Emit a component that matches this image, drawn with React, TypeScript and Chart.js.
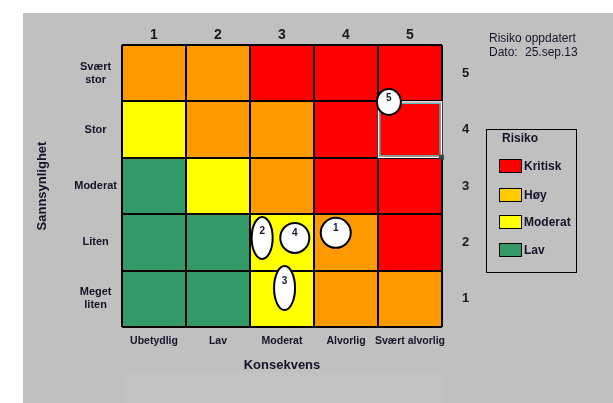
import React, { useEffect, useRef } from 'react';
import { Chart, registerables } from 'chart.js';

Chart.register(...registerables);

// ---- data ----
const consequenceLabels = ['Ubetydlig', 'Lav', 'Moderat', 'Alvorlig', 'Svært alvorlig'];
const consequenceNumbers = ['1', '2', '3', '4', '5'];
const likelihoodLabels = [['Svært', 'stor'], 'Stor', 'Moderat', 'Liten', ['Meget', 'liten']]; // top -> bottom
const likelihoodNumbers = ['5', '4', '3', '2', '1']; // top -> bottom
const likelihoodValues = [1, 2, 3, 4, 5];

// risk level per cell (0 Lav, 1 Moderat, 2 Høy, 3 Kritisk), row per likelihood 1..5, columns consequence 1..5
const levelLikelihood1 = [0, 0, 1, 2, 2];
const levelLikelihood2 = [0, 0, 1, 2, 3];
const levelLikelihood3 = [0, 1, 2, 3, 3];
const levelLikelihood4 = [1, 2, 2, 3, 3];
const levelLikelihood5 = [2, 2, 3, 3, 3];
const levelRows = [levelLikelihood1, levelLikelihood2, levelLikelihood3, levelLikelihood4, levelLikelihood5];

const levelNames = ['Lav', 'Moderat', 'Høy', 'Kritisk'];
const legendOrder = [3, 2, 1, 0];

// registered risks
const riskIds = ['1', '2', '3', '4', '5'];
const riskConsequence = [3.84, 2.69, 3.04, 3.2, 4.67];
const riskLikelihood = [2.17, 2.08, 1.19, 2.08, 4.49];

// selected cell (consequence, likelihood)
const selectedCell = [5, 4];

// ---- styles ----
const cellColors = ['#339966', '#FFFF00', '#FF9900', '#FF0000'];
const legendColors = ['#339966', '#FFFF00', '#FFCC00', '#FF0000'];
const riskRadiusX = [15, 10.5, 10.5, 14.5, 12];
const riskRadiusY = [15, 21, 22, 15, 13];
const FONT = "'Liberation Sans', Arial, Helvetica, sans-serif";
const TEXT = '#14142a';

const overlayPlugin = {
  id: 'riskOverlay',
  afterDraw(chart: any) {
    const ctx = chart.ctx;
    const xs = chart.scales.xr;
    const ys = chart.scales.y;
    // selected cell highlight
    const sx0 = xs.getPixelForValue(selectedCell[0] - 0.5);
    const sx1 = xs.getPixelForValue(selectedCell[0] + 0.5);
    const sy0 = ys.getPixelForValue(selectedCell[1] + 0.5);
    const sy1 = ys.getPixelForValue(selectedCell[1] - 0.5);
    ctx.save();
    ctx.lineWidth = 1.5;
    ctx.strokeStyle = '#ffffff';
    ctx.strokeRect(sx0 + 0.5, sy0 + 0.5, sx1 - sx0 - 1, sy1 - sy0 - 1);
    ctx.lineWidth = 1;
    ctx.strokeStyle = '#33dddd';
    ctx.strokeRect(sx0 + 2, sy0 + 2, sx1 - sx0 - 4, sy1 - sy0 - 4);
    ctx.fillStyle = '#404040';
    ctx.fillRect(sx1 - 3, sy1 - 3, 5, 5);
    ctx.restore();

    // risk ellipses
    const meta = chart.getDatasetMeta(levelRows.length);
    meta.data.forEach((pt: any, i: number) => {
      const rx = riskRadiusX[i];
      const ry = riskRadiusY[i];
      ctx.save();
      ctx.beginPath();
      ctx.ellipse(pt.x, pt.y, rx, ry, 0, 0, Math.PI * 2);
      ctx.fillStyle = '#ffffff';
      ctx.fill();
      ctx.lineWidth = 2;
      ctx.strokeStyle = '#000000';
      ctx.stroke();
      ctx.fillStyle = TEXT;
      ctx.font = `bold 10px ${FONT}`;
      ctx.textAlign = 'center';
      ctx.textBaseline = 'middle';
      ctx.fillText(riskIds[i], pt.x, pt.y - ry * 0.3);
      ctx.restore();
    });
  },
};

export default function App() {
  const ref = useRef<HTMLCanvasElement | null>(null);

  useEffect(() => {
    if (!ref.current) return;
    Chart.defaults.font.family = FONT;
    const barDatasets = levelRows.map((row, r) => ({
      type: 'bar' as const,
      label: String(likelihoodValues[r]),
      data: row.map(() => [likelihoodValues[r] - 0.5, likelihoodValues[r] + 0.5]),
      backgroundColor: row.map((lv) => cellColors[lv]),
      borderWidth: 0,
      barPercentage: 1,
      categoryPercentage: 1,
      grouped: false,
      xAxisID: 'x',
      yAxisID: 'y',
    }));
    const riskDataset = {
      type: 'scatter' as const,
      label: 'Risiko',
      data: riskIds.map((_, i) => ({ x: riskConsequence[i], y: riskLikelihood[i] })),
      pointRadius: 0,
      pointHoverRadius: 0,
      showLine: false,
      xAxisID: 'xr',
      yAxisID: 'y',
    };

    const chart = new Chart(ref.current, {
      type: 'bar',
      data: {
        labels: consequenceLabels,
        datasets: [...barDatasets, riskDataset] as any,
      },
      plugins: [overlayPlugin],
      options: {
        animation: false,
        responsive: false,
        devicePixelRatio: 1,
        layout: { padding: 0 },
        plugins: { legend: { display: false }, tooltip: { enabled: false } },
        events: [],
        scales: {
          x: {
            type: 'category',
            position: 'bottom',
            offset: true,
            grid: { display: true, offset: true, color: '#000', lineWidth: 2, drawTicks: false, z: 1 },
            border: { display: false },
            ticks: { font: { size: 10.5, weight: 'bold' }, color: TEXT, padding: 8, maxRotation: 0, autoSkip: false },
            title: {
              display: true,
              text: 'Konsekvens',
              font: { size: 13, weight: 'bold' },
              color: TEXT,
              padding: { top: 0, bottom: 30 },
            },
            afterFit: (s: any) => { s.height = 76; },
          },
          xt: {
            type: 'category',
            labels: consequenceNumbers,
            position: 'top',
            offset: true,
            grid: { display: false, drawTicks: false },
            border: { display: false },
            ticks: { font: { size: 14, weight: 'bold' }, color: '#1a1a1a', padding: 1, maxRotation: 0, autoSkip: false },
            afterFit: (s: any) => { s.height = 45; },
          },
          xr: { type: 'linear', display: false, offset: false, min: 0.5, max: 5.5, grid: { offset: false } },
          y: { type: 'linear', display: false, offset: false, min: 0.5, max: 5.5 },
          yl: {
            type: 'category',
            labels: likelihoodLabels as any,
            position: 'left',
            offset: true,
            grid: { display: true, offset: true, color: '#000', lineWidth: 2, drawTicks: false, z: 1 },
            border: { display: false },
            ticks: { font: { size: 11, weight: 'bold' }, color: TEXT, padding: 5, crossAlign: 'center', autoSkip: false },
            title: {
              display: true,
              text: 'Sannsynlighet',
              font: { size: 13, weight: 'bold' },
              color: TEXT,
              padding: { top: 35, bottom: 0 },
            },
            afterFit: (s: any) => { s.width = 122; },
          },
          yr: {
            type: 'category',
            labels: likelihoodNumbers,
            position: 'right',
            offset: true,
            grid: { display: false, drawTicks: false },
            border: { display: false },
            ticks: { font: { size: 13, weight: 'bold' }, color: '#1a1a1a', padding: 20, autoSkip: false },
            afterFit: (s: any) => { s.width = 171; },
          },
        },
      } as any,
    });
    return () => chart.destroy();
  }, []);

  const txt: React.CSSProperties = { position: 'absolute', fontFamily: FONT, color: TEXT, whiteSpace: 'nowrap', lineHeight: '14px' };

  return (
    <div style={{ position: 'absolute', left: 0, top: 0, width: 613, height: 403, background: '#ffffff', overflow: 'hidden' }}>
      <div style={{ position: 'absolute', left: 23, top: 13, width: 590, height: 390, background: '#C0C0C0' }} />
      <div style={{ position: 'absolute', left: 122, top: 372, width: 321, height: 31, background: '#C2C2C2' }} />
      <canvas ref={ref} width={613} height={403} style={{ position: 'absolute', left: 0, top: 0, width: 613, height: 403 }} />
      <div style={{ ...txt, left: 489, top: 31, fontSize: 12 }}>Risiko oppdatert</div>
      <div style={{ ...txt, left: 489, top: 45, fontSize: 12 }}>Dato:</div>
      <div style={{ ...txt, left: 525, top: 45, fontSize: 12 }}>25.sep.13</div>
      <div style={{ position: 'absolute', left: 486, top: 129, width: 89, height: 142, border: '1px solid #000', boxSizing: 'content-box' }} />
      <div style={{ ...txt, left: 502, top: 131, fontSize: 12, fontWeight: 'bold' }}>Risiko</div>
      {legendOrder.map((lv, i) => (
        <React.Fragment key={lv}>
          <div style={{ position: 'absolute', left: 499, top: [159, 188, 215, 243][i], width: 21, height: 12, background: legendColors[lv], border: '1px solid #000' }} />
          <div style={{ ...txt, left: 524, top: [159, 188, 215, 243][i], fontSize: 12, fontWeight: 'bold' }}>{levelNames[lv]}</div>
        </React.Fragment>
      ))}
    </div>
  );
}
